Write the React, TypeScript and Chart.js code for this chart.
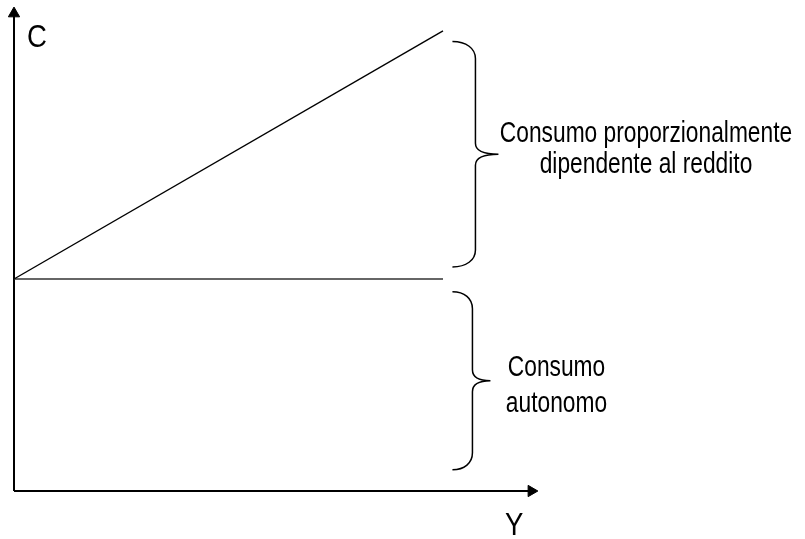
import React, { useEffect, useRef } from "react";
import { Chart, registerables } from "chart.js";

Chart.register(...registerables);

// Data (abstract units: income Y on x, consumption C on y)
const incomeValues = [0, 10];
const consumptionValues = [10, 21.7];
const autonomousValues = [10, 10];
const axisXEnd = 12.06;
const axisYEnd = 22.52;
const axisLabels = ["C", "Y"];
const braceRanges = [
  [10.57, 21.2],
  [1.0, 9.4],
];
const braceStartY = 10.22;
const braceTexts = [
  ["Consumo proporzionalmente", "dipendente al reddito"],
  ["Consumo", "autonomo"],
];

const FONT = "'Liberation Sans', Arial, sans-serif";

function narrowText(ctx: CanvasRenderingContext2D, text: string, x: number, y: number, sx: number) {
  ctx.save();
  ctx.translate(x, y);
  ctx.scale(sx, 1);
  ctx.fillText(text, 0, 0);
  ctx.restore();
}

const annotPlugin = {
  id: "annot",
  afterDatasetsDraw(chart: any) {
    const { ctx, scales } = chart;
    const xs = scales.x;
    const ys = scales.y;
    ctx.save();
    ctx.strokeStyle = "#000";
    ctx.fillStyle = "#000";
    ctx.lineWidth = 1.5;
    const widths = [23, 20];
    const tips = [46, 38];
    braceRanges.forEach((r, i) => {
      const x0 = xs.getPixelForValue(braceStartY);
      const top = ys.getPixelForValue(r[1]);
      const bot = ys.getPixelForValue(r[0]);
      const mid = (top + bot) / 2;
      const xv = x0 + widths[i];
      const xt = x0 + tips[i];
      const rad = 17;
      const mr = 11;
      ctx.beginPath();
      ctx.moveTo(x0, top);
      ctx.bezierCurveTo(x0 + widths[i] * 0.6, top, xv, top + rad * 0.4, xv, top + rad);
      ctx.lineTo(xv, mid - mr);
      ctx.bezierCurveTo(xv, mid - mr * 0.3, xv + (xt - xv) * 0.4, mid, xt, mid);
      ctx.bezierCurveTo(xv + (xt - xv) * 0.4, mid, xv, mid + mr * 0.3, xv, mid + mr);
      ctx.lineTo(xv, bot - rad);
      ctx.bezierCurveTo(xv, bot - rad * 0.4, x0 + widths[i] * 0.6, bot, x0, bot);
      ctx.stroke();
    });
    // brace texts
    ctx.font = "29px " + FONT;
    ctx.textAlign = "center";
    ctx.textBaseline = "alphabetic";
    narrowText(ctx, braceTexts[0][0], 646, 142, 0.785);
    narrowText(ctx, braceTexts[0][1], 646, 173, 0.785);
    narrowText(ctx, braceTexts[1][0], 556.5, 376, 0.785);
    narrowText(ctx, braceTexts[1][1], 556.5, 412, 0.785);
    // axis labels
    ctx.font = "32px " + FONT;
    ctx.textAlign = "left";
    narrowText(ctx, axisLabels[0], 27, 47, 0.86);
    narrowText(ctx, axisLabels[1], 505, 535, 0.86);
    ctx.restore();
  },
};

export default function App() {
  const ref = useRef<HTMLCanvasElement>(null);
  useEffect(() => {
    if (!ref.current) return;
    const chart = new Chart(ref.current, {
      type: "scatter",
      data: {
        datasets: [
          {
            data: incomeValues.map((x, i) => ({ x, y: consumptionValues[i] })),
            showLine: true,
            borderColor: "#000",
            borderWidth: 1.4,
            pointRadius: 0,
          },
          {
            data: incomeValues.map((x, i) => ({ x, y: autonomousValues[i] })),
            showLine: true,
            borderColor: "#333",
            borderWidth: 1.4,
            pointRadius: 0,
          },
          {
            data: [
              { x: 0, y: 0 },
              { x: 0, y: axisYEnd },
            ],
            showLine: true,
            borderColor: "#000",
            borderWidth: 2,
            pointRadius: [0, 6.5],
            pointStyle: "triangle",
            pointBackgroundColor: "#000",
            pointBorderColor: "#000",
            pointBorderWidth: 1,
          },
          {
            data: [
              { x: 0, y: 0 },
              { x: axisXEnd, y: 0 },
            ],
            showLine: true,
            borderColor: "#000",
            borderWidth: 2,
            pointRadius: [0, 6.5],
            pointStyle: "triangle",
            pointRotation: 90,
            pointBackgroundColor: "#000",
            pointBorderColor: "#000",
            pointBorderWidth: 1,
          },
        ],
      },
      options: {
        responsive: false,
        animation: false,
        clip: false,
        layout: { padding: 0, autoPadding: false },
        plugins: { legend: { display: false }, tooltip: { enabled: false } },
        scales: {
          x: { type: "linear", display: false, min: -14 / 42.9, max: (805 - 14) / 42.9 },
          y: { type: "linear", display: false, min: (491 - 539) / 21.2, max: 491 / 21.2 },
        },
      } as any,
      plugins: [annotPlugin],
    });
    return () => chart.destroy();
  }, []);
  return (
    <div style={{ position: "fixed", left: 0, top: 0, width: 805, height: 539, background: "#fff" }}>
      <canvas ref={ref} width={805} height={539} />
    </div>
  );
}
